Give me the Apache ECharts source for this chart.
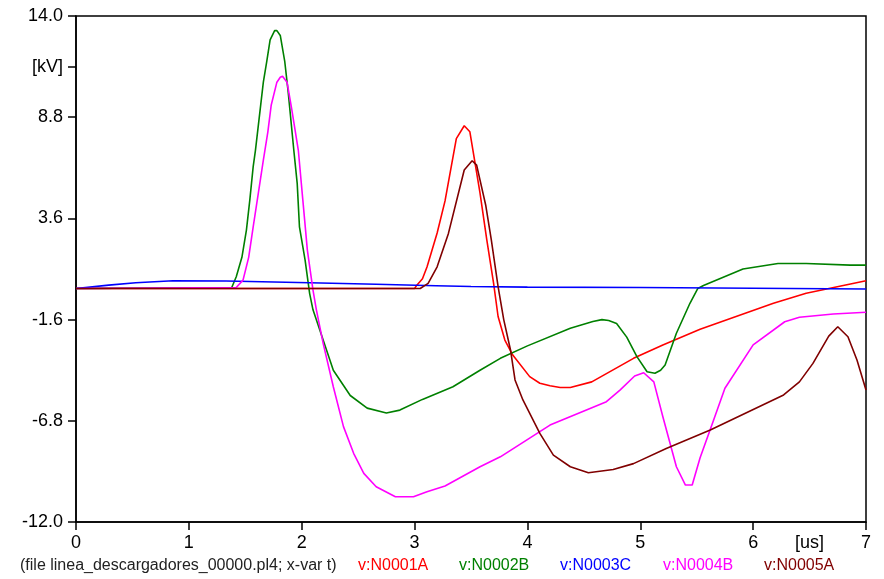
<!DOCTYPE html>
<html>
<head>
<meta charset="utf-8">
<script src="https://cdn.jsdelivr.net/npm/echarts@6/dist/echarts.min.js"></script>
<style>
  html, body { margin: 0; padding: 0; background: #fff; }
  #chart { width: 884px; height: 579px; }
</style>
</head>
<body>
<div id="chart"></div>
<script>
// Time axis [us] and voltages [kV] for each node
const tN0001A = [0, 3.0, 3.02, 3.07, 3.11, 3.2, 3.27, 3.37, 3.44, 3.49, 3.58, 3.64, 3.70, 3.74, 3.80, 3.87, 4.02, 4.11, 4.20, 4.29, 4.38, 4.57, 4.94, 5.2, 5.53, 6.18, 6.47, 7.0];
const vN0001A = [0, 0, 0.17, 0.5, 1.1, 2.85, 4.5, 7.7, 8.36, 8.05, 4.9, 2.5, 0.27, -1.44, -2.65, -3.42, -4.53, -4.87, -5.0, -5.09, -5.09, -4.8, -3.59, -2.9, -2.1, -0.76, -0.25, 0.4];

const tN0002B = [0, 1.38, 1.42, 1.47, 1.51, 1.54, 1.57, 1.59, 1.66, 1.69, 1.72, 1.76, 1.78, 1.81, 1.85, 1.88, 1.93, 1.96, 1.98, 2.03, 2.07, 2.10, 2.19, 2.28, 2.43, 2.58, 2.75, 2.87, 3.07, 3.34, 3.58, 3.76, 4.0, 4.38, 4.58, 4.66, 4.72, 4.79, 4.88, 4.97, 5.06, 5.13, 5.18, 5.22, 5.32, 5.44, 5.51, 5.56, 5.91, 6.22, 6.47, 6.86, 7.0];
const vN0002B = [0, 0.05, 0.6, 1.6, 3.0, 4.54, 6.26, 7.1, 10.6, 11.65, 12.77, 13.25, 13.25, 13.0, 11.65, 10.1, 7.1, 5.4, 3.17, 1.46, -0.25, -1.1, -2.65, -4.2, -5.5, -6.15, -6.4, -6.25, -5.7, -5.05, -4.2, -3.59, -2.95, -2.04, -1.7, -1.6, -1.65, -1.8, -2.5, -3.5, -4.28, -4.36, -4.2, -3.93, -2.3, -0.76, 0.0, 0.15, 1.0, 1.28, 1.28, 1.2, 1.2];

const tN0003C = [0, 0.29, 0.53, 0.86, 1.33, 2.07, 2.66, 3.19, 3.5, 4.0, 5.0, 6.0, 7.0];
const vN0003C = [0, 0.17, 0.29, 0.4, 0.38, 0.29, 0.22, 0.14, 0.1, 0.07, 0.05, 0.01, -0.03];

const tN0004B = [0, 1.42, 1.48, 1.53, 1.57, 1.62, 1.66, 1.70, 1.73, 1.78, 1.81, 1.83, 1.87, 1.91, 1.97, 2.01, 2.05, 2.10, 2.13, 2.19, 2.28, 2.37, 2.46, 2.55, 2.66, 2.83, 2.99, 3.11, 3.27, 3.58, 3.76, 4.2, 4.70, 4.82, 4.95, 5.03, 5.12, 5.20, 5.32, 5.40, 5.46, 5.53, 5.65, 5.75, 6.0, 6.28, 6.41, 6.71, 7.0];
const vN0004B = [0, 0.05, 0.43, 1.6, 3.17, 5.06, 6.6, 8.05, 9.43, 10.6, 10.85, 10.9, 10.6, 9.26, 7.1, 4.54, 1.97, -0.08, -1.1, -2.82, -5.05, -7.1, -8.47, -9.5, -10.19, -10.7, -10.7, -10.44, -10.15, -9.16, -8.65, -7.02, -5.82, -5.22, -4.5, -4.33, -4.8, -6.59, -9.16, -10.1, -10.1, -8.7, -6.76, -5.13, -2.9, -1.71, -1.48, -1.31, -1.22];

const tN0005A = [0, 3.05, 3.12, 3.2, 3.30, 3.44, 3.51, 3.55, 3.63, 3.68, 3.74, 3.79, 3.85, 3.89, 3.96, 4.11, 4.23, 4.38, 4.54, 4.76, 4.94, 5.23, 5.62, 6.27, 6.41, 6.53, 6.67, 6.75, 6.84, 6.92, 7.0];
const vN0005A = [0, 0, 0.26, 1.11, 2.83, 6.09, 6.56, 6.34, 4.29, 2.5, 0.1, -1.6, -3.16, -4.7, -5.73, -7.45, -8.56, -9.16, -9.47, -9.3, -9.0, -8.22, -7.27, -5.47, -4.8, -3.85, -2.45, -1.97, -2.48, -3.68, -5.22];

// Axis ticks and labels
const xTicks = [0, 1, 2, 3, 4, 5, 6, 7];
const xUnit = { value: 6.5, text: '[us]' };
const yTicks = [-12.0, -6.8, -1.6, 3.6, 8.8, 14.0];
const yUnit = { value: 11.4, text: '[kV]' };

const seriesNames = ['v:N0001A', 'v:N0002B', 'v:N0003C', 'v:N0004B', 'v:N0005A'];
const seriesColors = ['#ff0000', '#008000', '#0000ff', '#ff00ff', '#800000'];
const seriesT = [tN0001A, tN0002B, tN0003C, tN0004B, tN0005A];
const seriesV = [vN0001A, vN0002B, vN0003C, vN0004B, vN0005A];
const footerText = '(file linea_descargadores_00000.pl4; x-var t)';

const zip = (ts, vs) => ts.map((t, i) => [t, vs[i]]);

const chart = echarts.init(document.getElementById('chart'), null, { renderer: 'canvas' });

const font = 'Liberation Sans, Arial, sans-serif';

// footer: file caption and coloured series names
const footerX = [20, 358, 459, 560, 663, 764];
const graphic = [{
  type: 'text', left: footerX[0], top: 558,
  style: { text: footerText, fill: '#222', font: '16px ' + font }
}];
seriesNames.forEach((n, i) => {
  graphic.push({
    type: 'text', left: footerX[i + 1], top: 558,
    style: { text: n, fill: seriesColors[i], font: '16px ' + font }
  });
});

chart.setOption({
  animation: false,
  backgroundColor: '#fff',
  grid: {
    left: 76, right: 18, top: 16, bottom: 57,
    show: true, borderColor: '#000', borderWidth: 1.5, backgroundColor: 'transparent'
  },
  xAxis: {
    type: 'value', min: 0, max: 7, interval: 1,
    axisLine: { show: true, onZero: false, lineStyle: { color: '#000', width: 1.5 } },
    axisTick: { show: true, length: 8, customValues: xTicks, lineStyle: { color: '#000', width: 1.5 } },
    axisLabel: {
      show: true, margin: 12, color: '#000', fontSize: 18, fontFamily: font,
      customValues: xTicks.concat([xUnit.value]),
      formatter: v => (Math.abs(v - xUnit.value) < 1e-6 ? xUnit.text : String(v))
    },
    splitLine: { show: false }
  },
  yAxis: {
    type: 'value', min: -12, max: 14, interval: 5.2,
    axisLine: { show: true, onZero: false, lineStyle: { color: '#000', width: 1.5 } },
    axisTick: { show: true, length: 8, customValues: yTicks.concat([yUnit.value]), lineStyle: { color: '#000', width: 1.5 } },
    axisLabel: {
      show: true, margin: 13, color: '#000', fontSize: 18, fontFamily: font,
      customValues: yTicks.concat([yUnit.value]),
      formatter: v => (Math.abs(v - yUnit.value) < 1e-6 ? yUnit.text : v.toFixed(1))
    },
    splitLine: { show: false }
  },
  graphic: graphic,
  series: seriesNames.map((n, i) => ({
    name: n,
    type: 'line',
    data: zip(seriesT[i], seriesV[i]),
    showSymbol: false,
    smooth: false,
    clip: true,
    lineStyle: { color: seriesColors[i], width: 1.6 },
    itemStyle: { color: seriesColors[i] }
  }))
});
</script>
</body>
</html>
